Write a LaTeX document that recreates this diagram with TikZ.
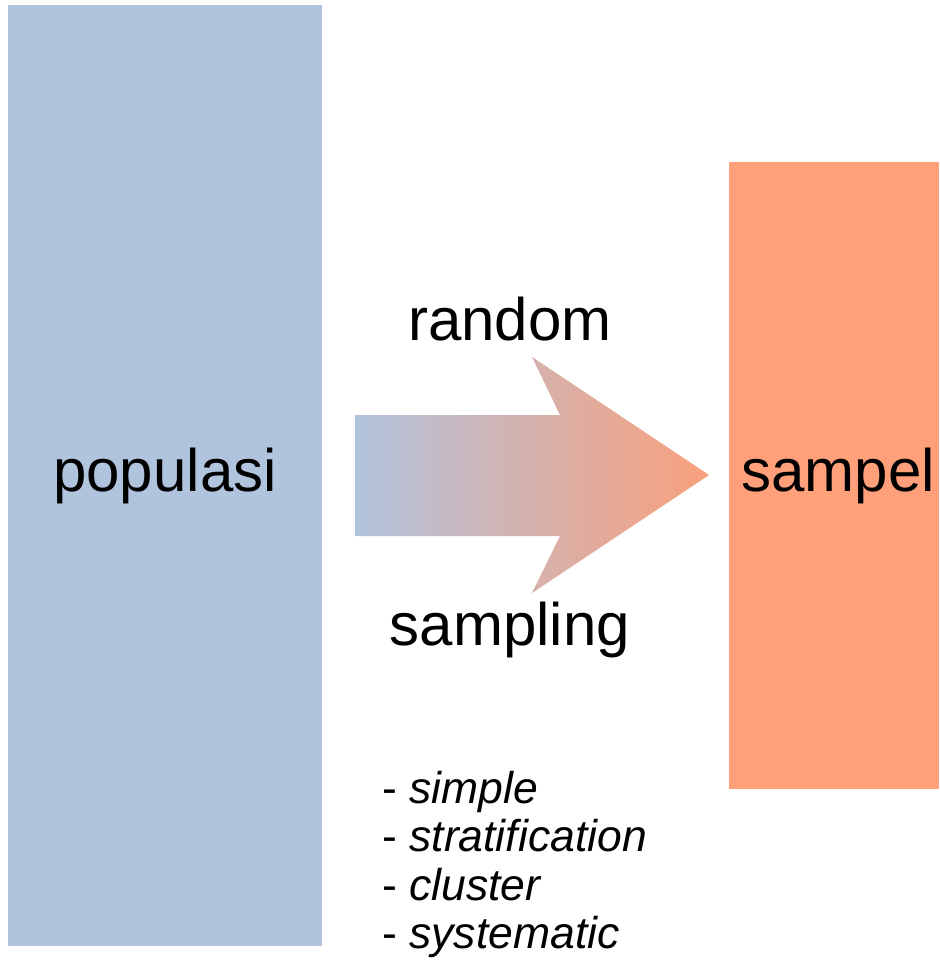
\documentclass[tikz,border=0pt]{standalone}
\usepackage{fontspec}
\setmainfont{Liberation Sans}
\definecolor{popblue}{HTML}{B0C4DE}
\definecolor{samporange}{HTML}{FFA07A}
\definecolor{arrowstart}{HTML}{B2C3DD}
\definecolor{arrowend}{HTML}{F9A07C}
\begin{document}
\begin{tikzpicture}[x=1pt,y=-1pt,
  block/.style={draw=none,inner sep=0pt,anchor=north west},
  bigtext/.style={font=\fontsize{60}{72}\selectfont,anchor=base,inner sep=0pt},
  listtext/.style={font=\fontsize{44.5}{48.5}\selectfont,anchor=base west,inner sep=0pt}]
  \useasboundingbox (0,0) rectangle (939,960);
  % the two sets
  \node[block,fill=popblue,minimum width=314pt,minimum height=941pt] (pop) at (8,5) {};
  \node[block,fill=samporange,minimum width=210pt,minimum height=627pt] (samp) at (729,162) {};
  % sampling arrow, blue fading into orange
  \coordinate (tip) at (709,475);
  \shade[left color=arrowstart,right color=arrowend]
    (355,415) -- (560,415) -- (532,357) -- (tip) -- (532,593) -- (560,536) -- (355,536) -- cycle;
  % labels
  \node[bigtext] (poplabel) at (165,491) {populasi};
  \node[bigtext] (samplabel) at (838,491) {sampel};
  \node[bigtext] (random) at (510,340) {random};
  \node[bigtext] (sampling) at (510,645) {sampling};
  % sampling methods
  \node[listtext] (m1) at (382,803) {- \textit{simple}};
  \node[listtext] (m2) at (382,851.5) {- \textit{stratification}};
  \node[listtext] (m3) at (382,900) {- \textit{cluster}};
  \node[listtext] (m4) at (382,948.5) {- \textit{systematic}};
\end{tikzpicture}
\end{document}
